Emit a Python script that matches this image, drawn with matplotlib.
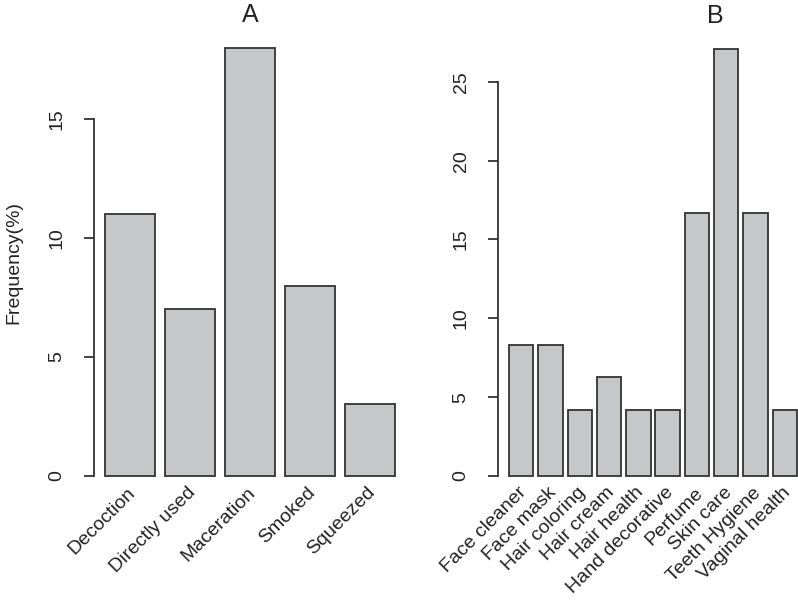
import matplotlib
matplotlib.use("Agg")
import matplotlib.pyplot as plt

plt.rcParams['font.family'] = ['Liberation Sans', 'DejaVu Sans']

# Panel A: preparation methods
methods = ["Decoction", "Directly used", "Maceration", "Smoked", "Squeezed"]
methods_freq = [11, 7, 18, 8, 3]

# Panel B: cosmetic uses
uses = ["Face cleaner", "Face mask", "Hair coloring", "Hair cream", "Hair health",
        "Hand decorative", "Perfume", "Skin care", "Teeth Hygiene", "Vaginal health"]
uses_freq = [8.33, 8.33, 4.17, 6.25, 4.17, 4.17, 16.67, 27.08, 16.67, 4.17]

BAR_COLOR = "#c6c7c9"
EDGE = "#333333"
TXT = "#222222"
W, H = 798, 601
DPI = 100
FS = 14


def r_barplot(ax, names, values, yticks, title, title_x):
    # R barplot layout: width 1, space 0.2
    n = len(values)
    centers = [0.7 + 1.2 * i for i in range(n)]
    ax.bar(centers, values, width=1.0, color=BAR_COLOR, edgecolor=EDGE, linewidth=1.3)
    top = max(values)
    ax.set_ylim(-0.04 * top, 1.04 * top)
    for s in ["top", "right", "bottom"]:
        ax.spines[s].set_visible(False)
    ax.spines["left"].set_bounds(yticks[0], yticks[-1])
    ax.spines["left"].set_color(EDGE)
    ax.spines["left"].set_linewidth(1.3)
    ax.set_yticks(yticks)
    ax.set_yticklabels([str(t) for t in yticks])
    ax.tick_params(axis="y", length=7.5, width=1.3, color=EDGE, pad=12.5,
                   labelsize=FS, labelcolor=TXT)
    for lbl in ax.get_yticklabels():
        lbl.set_rotation(90)
        lbl.set_va("center")
    ax.set_xticks([])
    for c, name in zip(centers, names):
        ax.annotate(name, xy=(c, 0), xycoords="data", xytext=(4.5, -12.5),
                    textcoords="offset points", rotation=45, ha="right",
                    va="baseline", rotation_mode="anchor", fontsize=FS,
                    color=TXT, annotation_clip=False)
    ax.text(title_x, 1 + 16 / (ax.get_position().height * H), title,
            transform=ax.transAxes, ha="center", va="center", fontsize=18, color=TXT)


fig = plt.figure(figsize=(W / DPI, H / DPI), dpi=DPI)

# panel A
axA = fig.add_axes([93.5 / W, (H - 493) / H, 312.6 / W, 462.5 / H])
axA.set_xlim(-0.032, 6.232)
r_barplot(axA, methods, methods_freq, [0, 5, 10, 15], "A", 0.5)
fig.text(14 / W, 1 - 262 / H, "Frequency(%)", rotation=90, ha="center", va="center",
         fontsize=FS, color=TXT)

# panel B
axB = fig.add_axes([497.5 / W, (H - 493) / H, 300.5 / W, 461 / H])
axB.set_xlim(-0.272, 12.044)
r_barplot(axB, uses, uses_freq, [0, 5, 10, 15, 20, 25], "B", (715 - 497.5) / 300.5)

fig.savefig("out.png", dpi=DPI)
